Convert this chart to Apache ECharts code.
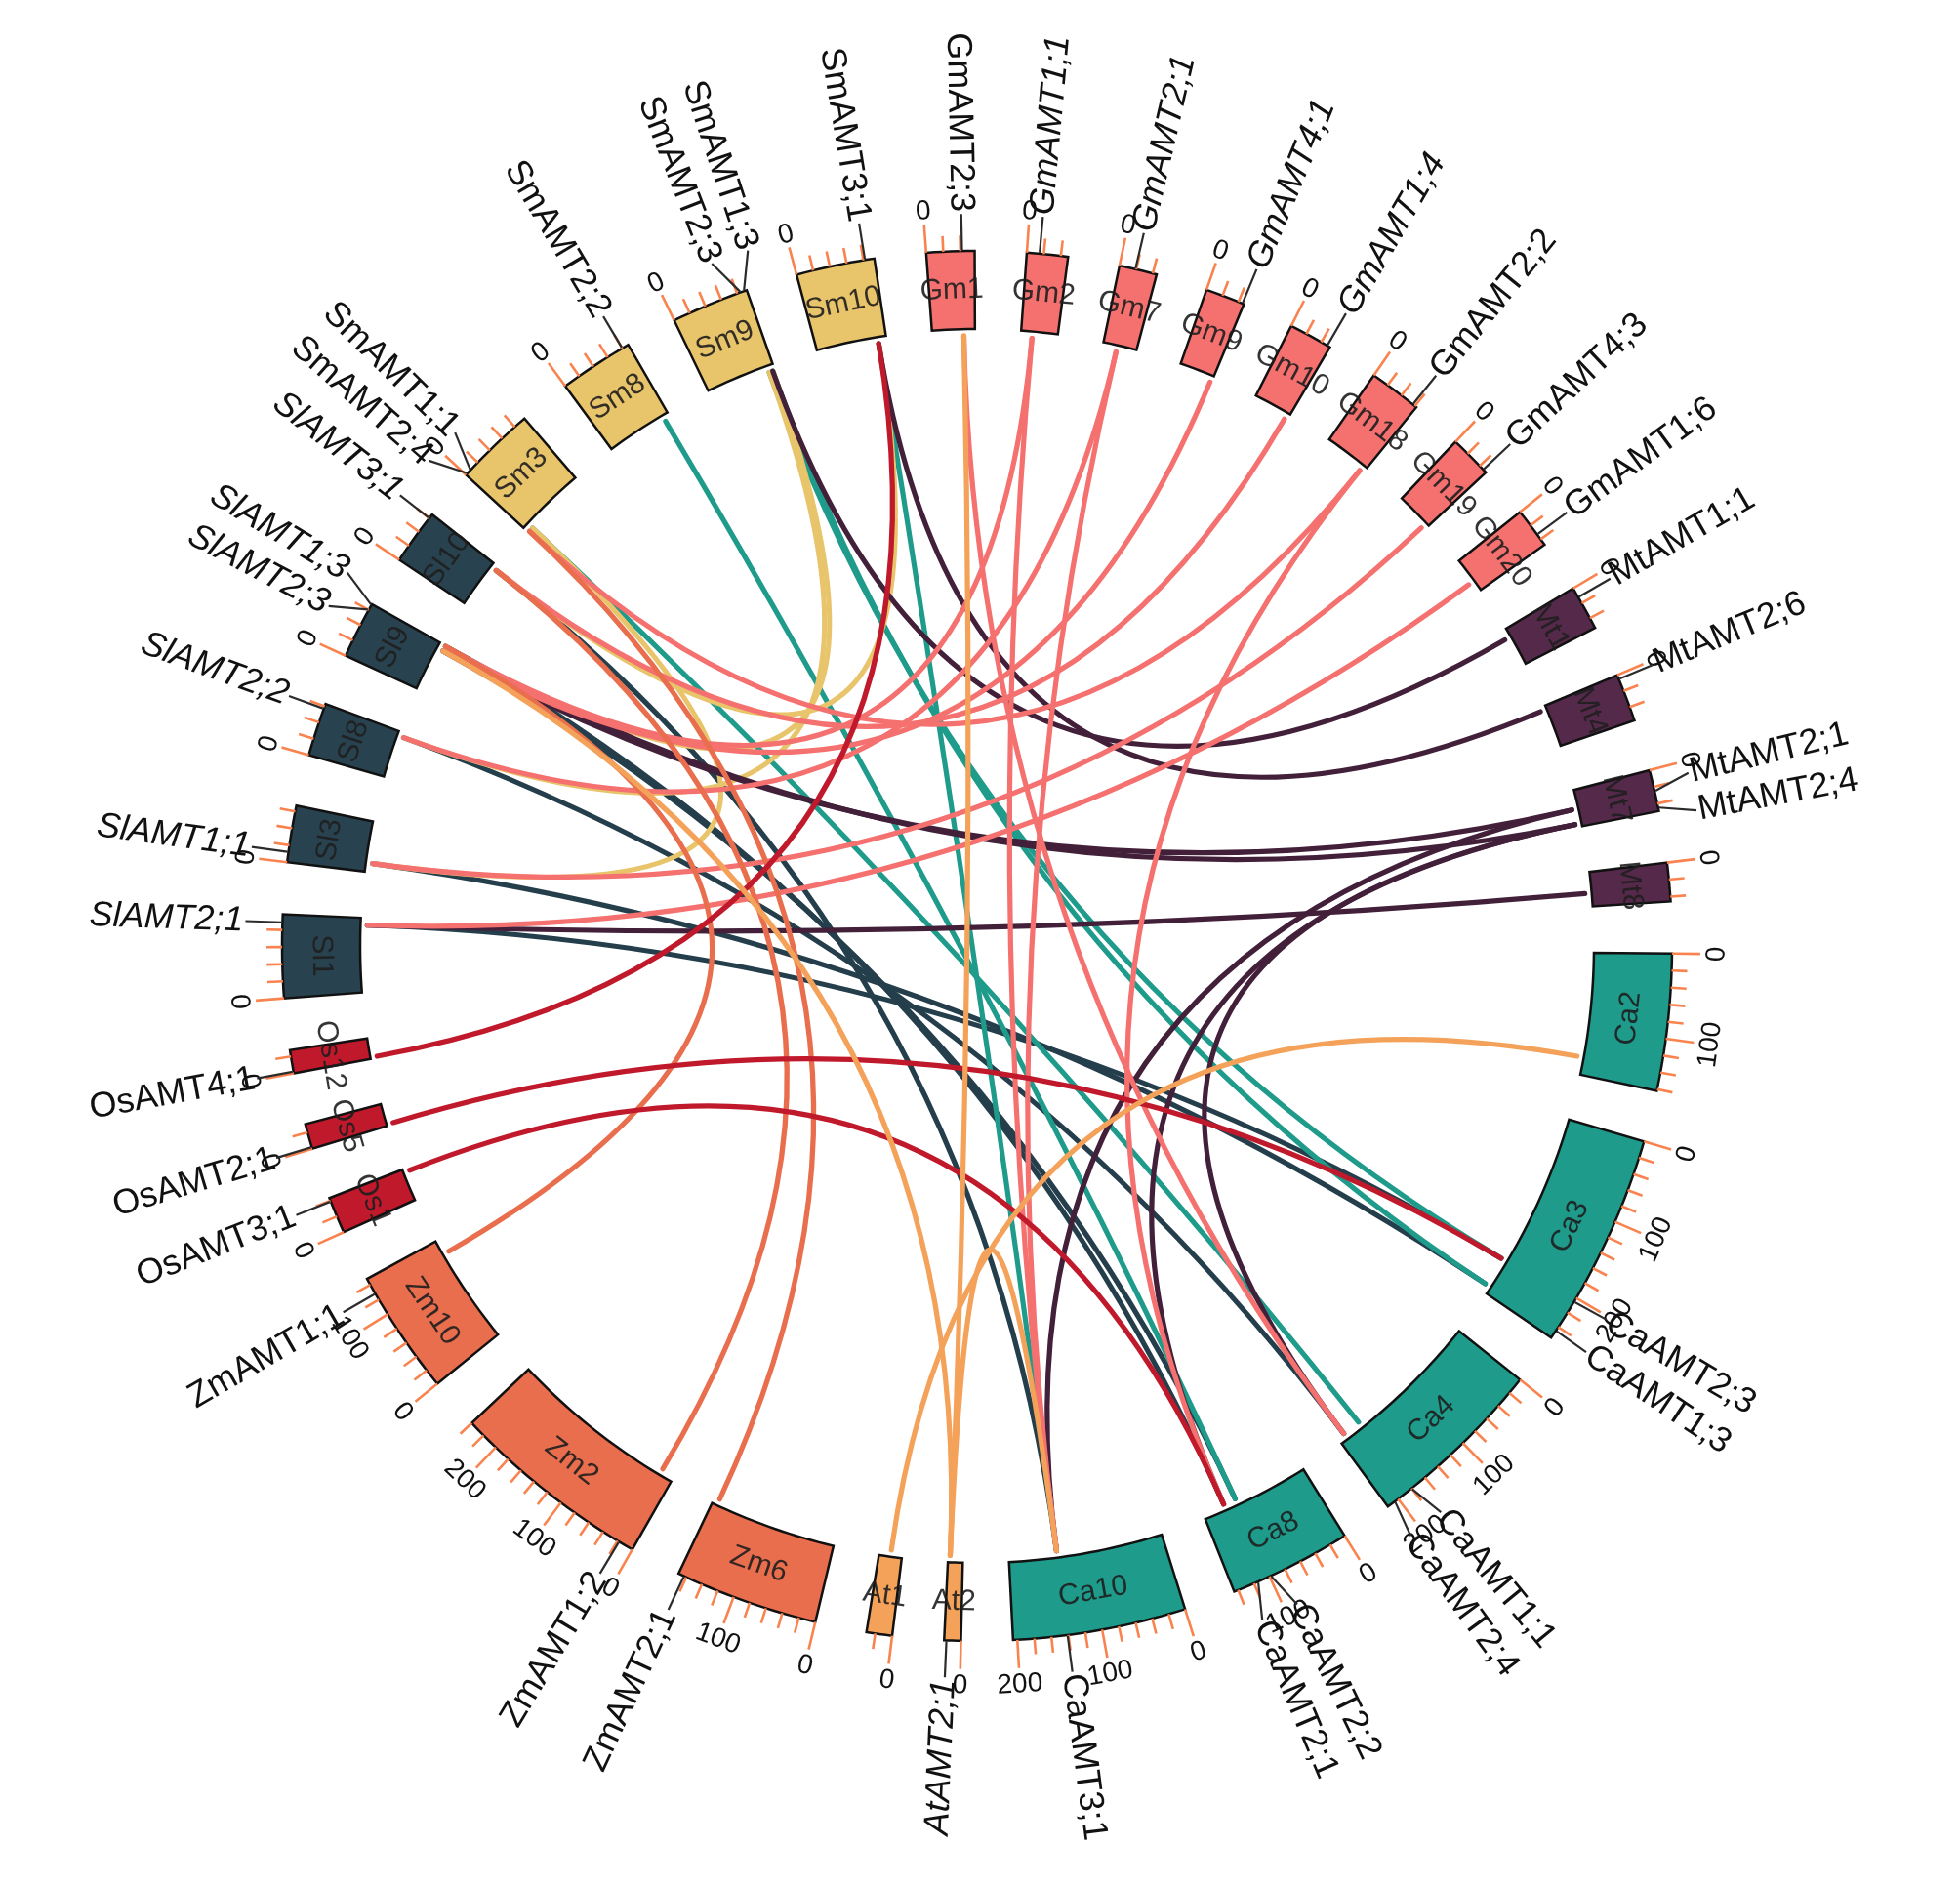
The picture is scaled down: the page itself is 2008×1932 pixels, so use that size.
<!DOCTYPE html>
<html>
<head>
<meta charset="utf-8">
<title>AMT collinearity circos</title>
<script src="https://cdn.jsdelivr.net/npm/echarts@6.0.0/dist/echarts.min.js"></script>
<style>
  html, body { margin: 0; padding: 0; background: #fff; }
  #chart { width: 2008px; height: 1932px; }
</style>
</head>
<body>
<div id="chart"></div>
<script>
// chromosomes, clockwise from the top (lengths in Mb)
const chromNames = ['Gm1', 'Gm2', 'Gm7', 'Gm9', 'Gm10', 'Gm18', 'Gm19', 'Gm20',
  'Mt1', 'Mt4', 'Mt7', 'Mt8', 'Ca2', 'Ca3', 'Ca4', 'Ca8', 'Ca10', 'At2', 'At1',
  'Zm6', 'Zm2', 'Zm10', 'Os1', 'Os5', 'Os12', 'Sl1', 'Sl3', 'Sl8', 'Sl9', 'Sl10',
  'Sm3', 'Sm8', 'Sm9', 'Sm10'];
const chromLengths = [56.8, 48.6, 44.7, 46.8, 51.6, 62.3, 50.6, 47.9,
  52.9, 56.6, 49.0, 45.6, 162, 255, 215, 145, 205, 19.7, 30.4,
  170, 240, 148, 43.3, 29.9, 27.5, 98.5, 67, 63, 67.7, 65.5,
  95, 88, 92, 93];

// genes (position in Mb on their chromosome); lower-case ids carry no label
const geneNames = ['GmAMT2;3', 'GmAMT1;1', 'GmAMT2;1', 'GmAMT4;1', 'GmAMT1;4', 'GmAMT2;2',
  'GmAMT4;3', 'GmAMT1;6', 'MtAMT1;1', 'MtAMT2;6', 'MtAMT2;1', 'MtAMT2;4', 'mt8',
  'ca2', 'CaAMT2;3', 'CaAMT1;3', 'CaAMT1;1', 'CaAMT2;4', 'CaAMT2;2', 'CaAMT2;1',
  'CaAMT3;1', 'AtAMT2;1', 'at1', 'ZmAMT2;1', 'ZmAMT1;2', 'ZmAMT1;1', 'OsAMT3;1',
  'OsAMT2;1', 'OsAMT4;1', 'SlAMT2;1', 'SlAMT1;1', 'SlAMT2;2', 'SlAMT2;3', 'SlAMT1;3',
  'SlAMT3;1', 'SmAMT2;4', 'SmAMT1;1', 'SmAMT2;2', 'SmAMT2;3', 'SmAMT1;3', 'SmAMT3;1'];
const geneChrom = ['Gm1', 'Gm2', 'Gm7', 'Gm9', 'Gm10', 'Gm18', 'Gm19', 'Gm20',
  'Mt1', 'Mt4', 'Mt7', 'Mt7', 'Mt8', 'Ca2', 'Ca3', 'Ca3', 'Ca4', 'Ca4', 'Ca8', 'Ca8',
  'Ca10', 'At2', 'At1', 'Zm6', 'Zm2', 'Zm10', 'Os1', 'Os5', 'Os12', 'Sl1', 'Sl3',
  'Sl8', 'Sl9', 'Sl9', 'Sl10', 'Sm3', 'Sm3', 'Sm8', 'Sm9', 'Sm9', 'Sm10'];
const genePos = [42, 15, 19, 45, 48, 57, 46, 33, 12, 5, 25, 45, 28,
  139, 205, 245, 180, 205, 98, 115, 141, 17, 15, 163, 18, 128, 39,
  2, 2, 89, 12, 57, 60, 67, 60, 2, 8, 80, 84, 89, 82];

// collinear pairs and the species colour each link is drawn in
const linkFrom = ['SlAMT2;1', 'SlAMT1;1', 'SlAMT2;2', 'SlAMT2;3', 'SlAMT1;3', 'SlAMT3;1',
  'SmAMT3;1', 'SmAMT1;3', 'SmAMT2;3', 'SmAMT2;2', 'SmAMT1;1',
  'SmAMT1;1', 'SmAMT2;3', 'SmAMT1;3', 'SmAMT3;1',
  'MtAMT1;1', 'MtAMT2;6', 'MtAMT2;1', 'MtAMT2;4', 'mt8', 'MtAMT2;1', 'MtAMT2;4', 'MtAMT2;4',
  'GmAMT2;3', 'GmAMT1;1', 'GmAMT1;1', 'GmAMT2;1', 'GmAMT2;1', 'GmAMT4;1', 'GmAMT1;4',
  'GmAMT2;2', 'GmAMT2;2', 'GmAMT4;3', 'GmAMT1;6',
  'ZmAMT1;1', 'ZmAMT1;2', 'ZmAMT2;1',
  'OsAMT4;1', 'OsAMT2;1', 'OsAMT3;1',
  'AtAMT2;1', 'AtAMT2;1', 'AtAMT2;1', 'at1'];
const linkTo = ['CaAMT2;3', 'CaAMT1;3', 'CaAMT2;4', 'CaAMT2;2', 'CaAMT2;1', 'CaAMT3;1',
  'CaAMT3;1', 'CaAMT1;3', 'CaAMT2;3', 'CaAMT2;2', 'CaAMT1;1',
  'SlAMT1;1', 'SlAMT2;2', 'SlAMT1;3', 'SlAMT3;1',
  'SmAMT1;3', 'SmAMT3;1', 'SlAMT2;3', 'SlAMT1;3', 'SlAMT2;1', 'CaAMT3;1', 'CaAMT2;1', 'CaAMT2;4',
  'CaAMT2;4', 'CaAMT3;1', 'SlAMT1;3', 'CaAMT3;1', 'SlAMT2;2', 'SlAMT2;3', 'SlAMT3;1',
  'CaAMT2;1', 'SmAMT2;4', 'SlAMT1;1', 'SlAMT2;1',
  'SlAMT1;3', 'SlAMT3;1', 'SmAMT2;4',
  'SmAMT3;1', 'CaAMT2;3', 'CaAMT2;1',
  'GmAMT2;3', 'SlAMT2;3', 'CaAMT3;1', 'ca2'];
const linkGroup = ['Sl', 'Sl', 'Sl', 'Sl', 'Sl', 'Sl',
  'Ca', 'Ca', 'Ca', 'Ca', 'Ca',
  'Sm', 'Sm', 'Sm', 'Sm',
  'Mt', 'Mt', 'Mt', 'Mt', 'Mt', 'Mt', 'Mt', 'Mt',
  'Gm', 'Gm', 'Gm', 'Gm', 'Gm', 'Gm', 'Gm', 'Gm', 'Gm', 'Gm', 'Gm',
  'Zm', 'Zm', 'Zm',
  'Os', 'Os', 'Os',
  'At', 'At', 'At', 'At'];

const TICK_STEP = 20;
const TICK_LABEL_STEP = 100;

// ---- styling ----
const speciesColor = {
  Gm: '#F4716F', Mt: '#55294A', Ca: '#1E9B8A', At: '#F4A25A',
  Zm: '#E96E4E', Os: '#C0192B', Sl: '#28434F', Sm: '#E8C46B'
};
const linkColor = Object.assign({}, speciesColor, { Mt: '#43203A', Sl: '#243F4B' });
const italicLabels = ['SlAMT2;1', 'SlAMT1;1', 'SlAMT2;2', 'SlAMT2;3', 'SlAMT1;3', 'SlAMT3;1',
  'GmAMT1;1', 'GmAMT2;1', 'GmAMT4;1', 'GmAMT1;4', 'AtAMT2;1'];
const TICK_COLOR = '#F9834F';
const FONT = '"Liberation Sans", Arial, sans-serif';

const GAP_DEG = 4.3;
const R_IN = 632, R_OUT = 712, R_LINK = 625;

// layout on the angle axis: chromosome coordinates plus equal gaps
const totalLen = chromLengths.reduce((a, b) => a + b, 0);
const AXIS_MAX = totalLen / (1 - chromNames.length * GAP_DEG / 360);
const GAP = AXIS_MAX * GAP_DEG / 360;
const chromStart = [];
let acc = 0;
chromLengths.forEach(len => { chromStart.push(acc); acc += len + GAP; });

const geneAngle = geneNames.map((g, i) => chromStart[chromNames.indexOf(geneChrom[i])] + genePos[i]);
const hasLabel = geneNames.map(g => g.indexOf('AMT') >= 0);

// spread labels that would overlap
const labelAngle = geneAngle.slice();
const order = geneNames.map((g, i) => i).filter(i => hasLabel[i])
  .sort((a, b) => geneAngle[a] - geneAngle[b]);
const MIN_SEP = AXIS_MAX * 3.0 / 360;
for (let it = 0; it < 300; it++) {
  for (let j = 1; j < order.length; j++) {
    const a = order[j - 1], b = order[j];
    const d = labelAngle[b] - labelAngle[a];
    if (d < MIN_SEP) {
      const push = (MIN_SEP - d) / 2;
      labelAngle[a] -= push;
      labelAngle[b] += push;
    }
  }
}

function screenAngle(p, c) {
  return Math.atan2(c[1] - p[1], p[0] - c[0]);
}
function norm(a) {
  while (a > Math.PI) a -= 2 * Math.PI;
  while (a <= -Math.PI) a += 2 * Math.PI;
  return a;
}

// ---- series ----
const linkData = linkFrom.map((g, i) => [R_LINK, geneAngle[geneNames.indexOf(g)], i]);
const linkSeries = {
  type: 'custom', coordinateSystem: 'polar', silent: true, data: linkData,
  renderItem: function (params, api) {
    const i = api.value(2);
    const a1 = geneAngle[geneNames.indexOf(linkFrom[i])];
    const a2 = geneAngle[geneNames.indexOf(linkTo[i])];
    const p1 = api.coord([R_LINK, a1]);
    const p2 = api.coord([R_LINK, a2]);
    const c = api.coord([0, 0]);
    return {
      type: 'bezierCurve',
      shape: { x1: p1[0], y1: p1[1], x2: p2[0], y2: p2[1], cpx1: c[0], cpy1: c[1] },
      style: { stroke: linkColor[linkGroup[i]], lineWidth: 5.2, fill: 'none', lineCap: 'round' }
    };
  }
};

const blockData = chromNames.map((n, i) => [R_IN, chromStart[i], i]);
const blockSeries = {
  type: 'custom', coordinateSystem: 'polar', silent: true, data: blockData,
  renderItem: function (params, api) {
    const i = api.value(2);
    const s = chromStart[i], e = s + chromLengths[i];
    const n = Math.max(4, Math.ceil(chromLengths[i] / 10));
    const pts = [];
    for (let k = 0; k <= n; k++) pts.push(api.coord([R_OUT, s + (e - s) * k / n]));
    for (let k = n; k >= 0; k--) pts.push(api.coord([R_IN, s + (e - s) * k / n]));
    const c = api.coord([0, 0]);
    const m = api.coord([(R_IN + R_OUT) / 2, (s + e) / 2]);
    let rot = norm(screenAngle(m, c) + Math.PI / 2);
    if (Math.abs(rot) > Math.PI / 2) rot = norm(rot + Math.PI);
    return {
      type: 'group',
      children: [
        { type: 'polygon', shape: { points: pts },
          style: { fill: speciesColor[chromNames[i].slice(0, 2)], stroke: '#111', lineWidth: 2.5 } },
        { type: 'text', x: m[0], y: m[1], rotation: rot,
          style: { text: chromNames[i], fill: '#1e1e1e', opacity: 0.9, font: '30px ' + FONT,
                   align: 'center', verticalAlign: 'middle' } }
      ]
    };
  }
};

const tickData = [];
chromNames.forEach((n, i) => {
  for (let p = 0; p <= chromLengths[i]; p += TICK_STEP) tickData.push([R_OUT, chromStart[i] + p, p]);
});
const tickSeries = {
  type: 'custom', coordinateSystem: 'polar', silent: true, data: tickData,
  renderItem: function (params, api) {
    const a = api.value(1), p = api.value(2);
    const major = p % TICK_LABEL_STEP === 0;
    const p1 = api.coord([R_OUT, a]);
    const p2 = api.coord([R_OUT + (major ? 29 : 16), a]);
    const children = [{ type: 'line', shape: { x1: p1[0], y1: p1[1], x2: p2[0], y2: p2[1] },
      style: { stroke: TICK_COLOR, lineWidth: 2.6 } }];
    if (major) {
      const c = api.coord([0, 0]);
      const t = api.coord([R_OUT + 46, a]);
      children.push({ type: 'text', x: t[0], y: t[1], rotation: norm(screenAngle(t, c) + Math.PI / 2),
        style: { text: String(p), fill: '#111', font: '28px ' + FONT, align: 'center', verticalAlign: 'middle' } });
    }
    return { type: 'group', children: children };
  }
};

const labelData = geneNames.map((g, i) => [R_OUT, geneAngle[i], i]).filter(d => hasLabel[d[2]]);
const labelSeries = {
  type: 'custom', coordinateSystem: 'polar', silent: true, data: labelData,
  renderItem: function (params, api) {
    const i = api.value(2);
    const c = api.coord([0, 0]);
    const p1 = api.coord([R_OUT + 1, geneAngle[i]]);
    const p2 = api.coord([R_OUT + 38, labelAngle[i]]);
    const t = api.coord([R_OUT + 40, labelAngle[i]]);
    const al = screenAngle(t, c);
    const right = Math.cos(al) >= 0;
    const italic = italicLabels.indexOf(geneNames[i]) >= 0 ? 'italic ' : '';
    return {
      type: 'group',
      children: [
        { type: 'line', shape: { x1: p1[0], y1: p1[1], x2: p2[0], y2: p2[1] },
          style: { stroke: '#2b2b2b', lineWidth: 2.2 } },
        { type: 'text', x: t[0], y: t[1], rotation: right ? al : norm(al + Math.PI),
          style: { text: geneNames[i], fill: '#111', font: italic + '36px ' + FONT,
                   align: right ? 'left' : 'right', verticalAlign: 'middle' } }
      ]
    };
  }
};

const chart = echarts.init(document.getElementById('chart'));
chart.setOption({
  backgroundColor: '#ffffff',
  animation: false,
  polar: { center: [1001, 969], radius: 1000 },
  angleAxis: { type: 'value', min: 0, max: AXIS_MAX, startAngle: 94.2, clockwise: true, show: false,
    axisLine: { show: false }, axisTick: { show: false }, axisLabel: { show: false }, splitLine: { show: false } },
  radiusAxis: { type: 'value', min: 0, max: 1000, show: false,
    axisLine: { show: false }, axisTick: { show: false }, axisLabel: { show: false }, splitLine: { show: false } },
  series: [linkSeries, blockSeries, tickSeries, labelSeries]
});
</script>
</body>
</html>
